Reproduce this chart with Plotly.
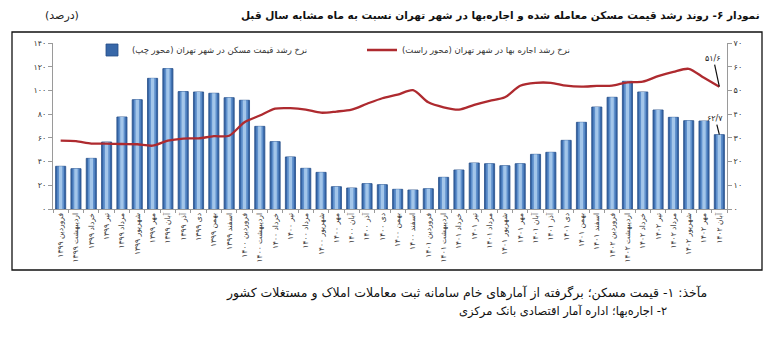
import plotly.graph_objects as go

# ---------------- data ----------------
months = ["فروردین", "اردیبهشت", "خرداد", "تیر", "مرداد", "شهریور",
          "مهر", "آبان", "آذر", "دی", "بهمن", "اسفند"]
years = ["۱۳۹۹", "۱۴۰۰", "۱۴۰۱", "۱۴۰۲"]
n_months = 44  # Farvardin 1399 .. Aban 1402
categories = [f"{m} {y}" for y in years for m in months][:n_months]

# house price growth (left axis, %)
house = [36.0, 34.0, 42.7, 56.5, 77.6, 92.2, 110.2, 118.4, 99.0, 98.7, 97.6, 93.9,
         91.7, 69.7, 56.8, 43.9, 34.3, 30.9, 18.8, 17.7, 21.4, 20.5, 16.6, 16.0,
         17.1, 26.7, 32.9, 38.8, 38.2, 36.5, 38.2, 46.1, 47.8, 57.9, 73.1, 86.0,
         94.2, 107.7, 98.7, 83.5, 77.3, 74.5, 74.2, 62.7]

# rent growth (right axis, %)
rent = [28.8, 28.6, 27.6, 27.6, 27.4, 27.3, 26.7, 28.8, 29.7, 29.8, 30.7, 30.9,
        36.6, 39.4, 42.3, 42.5, 41.9, 40.6, 41.1, 41.9, 44.4, 46.7, 48.2, 50.1,
        45.0, 42.9, 41.9, 43.9, 45.6, 47.1, 52.0, 53.2, 53.2, 52.0, 51.6, 51.9,
        52.0, 53.4, 53.7, 56.0, 57.8, 59.1, 55.3, 51.6]

left_ticks = [0, 20, 40, 60, 80, 100, 120, 140]
right_ticks = [0, 10, 20, 30, 40, 50, 60, 70]

RLM = "\u200F"
title_text = "نمودار ۶- روند رشد قیمت مسکن معامله شده و اجاره‌بها در شهر تهران نسبت به ماه مشابه سال قبل"
unit_text = "(درصد)"
house_name = "نرخ رشد قیمت مسکن در شهر تهران (محور چپ)"
rent_name = "نرخ رشد اجاره بها در شهر تهران (محور راست)"
source1 = "مآخذ: ۱- قیمت مسکن؛ برگرفته از آمارهای خام سامانه ثبت معاملات املاک و مستغلات کشور"
source2 = "۲- اجاره‌بها؛ اداره آمار اقتصادی بانک مرکزی"

FA = str.maketrans("0123456789.", "۰۱۲۳۴۵۶۷۸۹/")


def fa(v):
    return str(v).translate(FA)


FONT = "DejaVu Sans"

# ---------------- figure ----------------
fig = go.Figure()

# bars drawn as layered overlays to imitate the shaded columns
fig.add_trace(go.Bar(x=categories, y=house, width=0.66, name=RLM + house_name + RLM,
                     marker=dict(color="#3767A8", line=dict(color="#244C86", width=0.8)),
                     legend="legend", showlegend=True))
fig.add_trace(go.Bar(x=categories, y=house, width=0.44, marker=dict(color="#5F90CC", line=dict(width=0)),
                     showlegend=False, hoverinfo="skip"))
fig.add_trace(go.Bar(x=categories, y=house, width=0.22, marker=dict(color="#A3C6EA", line=dict(width=0)),
                     showlegend=False, hoverinfo="skip"))

fig.add_trace(go.Scatter(x=categories, y=rent, yaxis="y2", mode="lines",
                         name=RLM + rent_name + RLM,
                         line=dict(color="#AE2A2F", width=2.3, shape="spline", smoothing=0.8),
                         legend="legend2"))

axis_common = dict(showgrid=False, zeroline=False, showline=True, linecolor="#9a9a9a",
                   linewidth=1, ticks="outside", ticklen=4, tickcolor="#9a9a9a",
                   tickfont=dict(size=8, color="#333", family=FONT))

fig.update_layout(
    width=780, height=353,
    margin=dict(l=53, r=53, t=43, b=144),
    paper_bgcolor="white", plot_bgcolor="white",
    barmode="overlay",
    font=dict(family=FONT, size=9, color="#222"),
    xaxis=dict(type="category", tickangle=-90, showgrid=False, showline=True,
               linecolor="#9a9a9a", ticks="outside", tickson="boundaries", ticklen=3,
               tickcolor="#9a9a9a", tickfont=dict(size=7.5, color="#333", family=FONT),
               range=[-0.5, n_months - 0.5]),
    yaxis=dict(range=[0, 140], tickvals=left_ticks, ticktext=[fa(t) for t in left_ticks],
               **axis_common),
    yaxis2=dict(range=[0, 70], overlaying="y", side="right", tickvals=right_ticks,
                ticktext=[fa(t) for t in right_ticks], **axis_common),
    legend=dict(x=(92 - 53) / 674, y=(209 - 50) / 166, xanchor="left", yanchor="middle",
                bgcolor="rgba(0,0,0,0)", font=dict(size=8.5, color="#333"), itemwidth=30),
    legend2=dict(x=(362 - 53) / 674, y=(209 - 50) / 166, xanchor="left", yanchor="middle",
                 bgcolor="rgba(0,0,0,0)", font=dict(size=8.5, color="#333"), itemwidth=30),
    showlegend=True,
)

# frame around chart
fig.add_shape(type="rect", xref="paper", yref="paper",
              x0=(12 - 53) / 674, x1=(762 - 53) / 674,
              y0=(209 - 270) / 166, y1=(209 - 32) / 166,
              line=dict(color="#111", width=1.3), fillcolor="rgba(0,0,0,0)", layer="below")

# titles
fig.add_annotation(xref="paper", yref="paper", x=(762 - 53) / 674, y=(209 - 16) / 166,
                   xanchor="right", yanchor="middle", showarrow=False,
                   text="<b>" + RLM + title_text + RLM + "</b>",
                   font=dict(size=10.5, color="#111", family=FONT))
fig.add_annotation(xref="paper", yref="paper", x=(62 - 53) / 674, y=(209 - 16) / 166,
                   xanchor="center", yanchor="middle", showarrow=False,
                   text=RLM + unit_text + RLM, font=dict(size=11, color="#222", family=FONT))

# sources
fig.add_annotation(xref="paper", yref="paper", x=(709 - 53) / 674, y=(209 - 293) / 166,
                   xanchor="right", yanchor="middle", showarrow=False,
                   text=RLM + source1 + RLM, font=dict(size=12.5, color="#111", family=FONT))
fig.add_annotation(xref="paper", yref="paper", x=(669 - 53) / 674, y=(209 - 311) / 166,
                   xanchor="right", yanchor="middle", showarrow=False,
                   text=RLM + source2 + RLM, font=dict(size=11.5, color="#111", family=FONT))

# value call-outs for the last month
fig.add_annotation(x=categories[-1], y=rent[-1], yref="y2", text=fa(rent[-1]),
                   showarrow=True, arrowhead=0, arrowwidth=1.2, arrowcolor="#111",
                   ax=-6, ay=-28, standoff=0, font=dict(size=8, color="#222"))
fig.add_annotation(x=categories[-1], y=house[-1], yref="y", text=fa(house[-1]),
                   showarrow=True, arrowhead=0, arrowwidth=1.2, arrowcolor="#111",
                   ax=-4, ay=-16, standoff=0, font=dict(size=8, color="#222"))

fig.write_html("out.html")
